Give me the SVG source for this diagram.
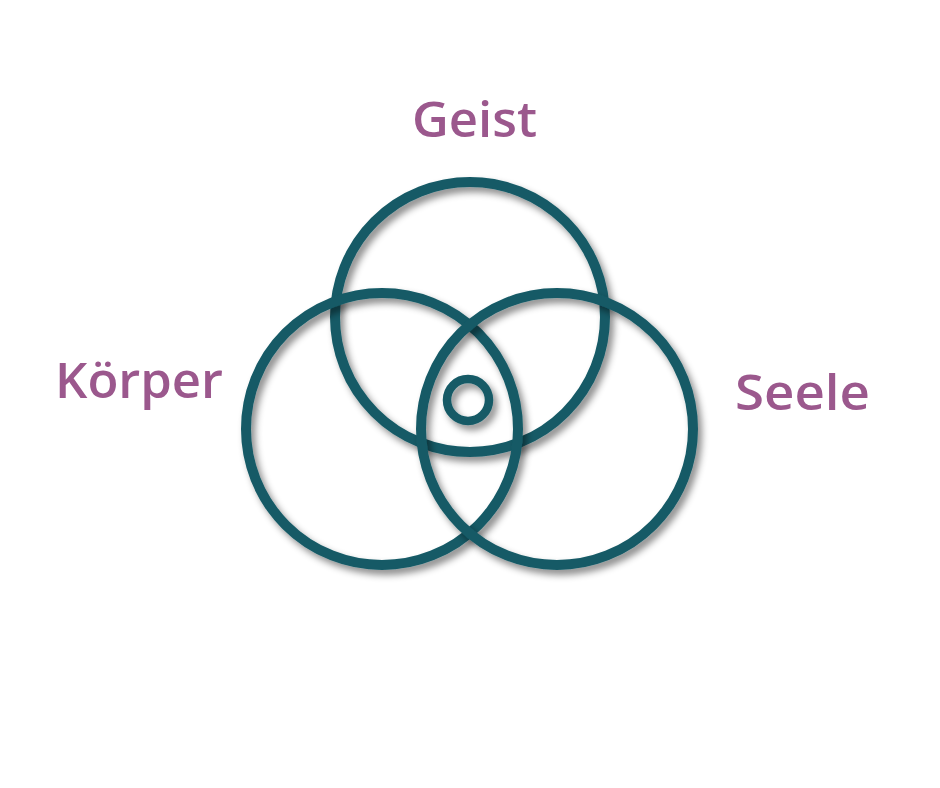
<svg xmlns="http://www.w3.org/2000/svg" width="940" height="788" viewBox="0 0 940 788">
<style>
.ring{fill:none;stroke:#155a66;stroke-width:10;filter:url(#sh)}
.lbl{font-family:"Open Sans","Liberation Sans",sans-serif;font-weight:600;font-size:48px;fill:#9b588d}
</style>
<defs>
<filter id="sh" x="-60%" y="-60%" width="220%" height="220%">
<feDropShadow dx="4" dy="5" stdDeviation="3.5" flood-color="#000" flood-opacity="0.45"/>
</filter>
</defs>
<rect width="940" height="788" fill="#fff"/>
<g id="connectors"></g>
<g id="geist"><circle class="ring" cx="470" cy="317" r="135"/></g>
<g id="koerper"><circle class="ring" cx="382" cy="429" r="136"/></g>
<g id="seele"><circle class="ring" cx="557" cy="429" r="136"/></g>
<g id="center"><circle class="ring" cx="468" cy="400" r="21" style="stroke-width:8.5"/></g>
<g id="label-geist"><text class="lbl" x="412" y="137" textLength="125" lengthAdjust="spacingAndGlyphs">Geist</text></g>
<g id="label-koerper"><text class="lbl" x="55" y="398" textLength="168" lengthAdjust="spacingAndGlyphs">Körper</text></g>
<g id="label-seele"><text class="lbl" x="735" y="410" textLength="135" lengthAdjust="spacingAndGlyphs">Seele</text></g>
</svg>
